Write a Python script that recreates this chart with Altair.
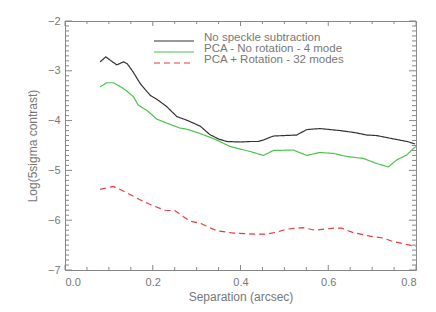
import altair as alt
import pandas as pd

names = ["No speckle subtraction", "PCA - No rotation - 4 mode", "PCA + Rotation - 32 modes"]
colors = ["#333333", "#4cc44c", "#e83a3a"]
dashes = [[1, 0], [1, 0], [6, 4]]

sep_nosub = [0.080, 0.093, 0.105, 0.118, 0.134, 0.142, 0.155, 0.171, 0.185, 0.194, 0.209, 0.232,
             0.255, 0.277, 0.308, 0.330, 0.350, 0.369, 0.400, 0.422, 0.440, 0.452, 0.475, 0.500,
             0.528, 0.551, 0.581, 0.627, 0.660, 0.688, 0.710, 0.756, 0.780, 0.798]
val_nosub = [-2.82, -2.72, -2.80, -2.88, -2.82, -2.86, -3.02, -3.25, -3.40, -3.49, -3.57, -3.72,
             -3.92, -3.99, -4.11, -4.28, -4.37, -4.42, -4.43, -4.42, -4.42, -4.39, -4.31, -4.30,
             -4.29, -4.18, -4.16, -4.20, -4.24, -4.29, -4.30, -4.38, -4.42, -4.47]

sep_pca4 = [0.080, 0.095, 0.110, 0.125, 0.140, 0.156, 0.167, 0.186, 0.209, 0.232, 0.262, 0.277,
            0.308, 0.338, 0.353, 0.376, 0.422, 0.452, 0.475, 0.520, 0.551, 0.581, 0.612, 0.642,
            0.680, 0.710, 0.737, 0.756, 0.779, 0.794, 0.800]
val_pca4 = [-3.32, -3.24, -3.24, -3.31, -3.40, -3.52, -3.69, -3.79, -3.97, -4.05, -4.15, -4.17,
            -4.26, -4.36, -4.42, -4.52, -4.62, -4.70, -4.60, -4.59, -4.70, -4.64, -4.66, -4.72,
            -4.76, -4.86, -4.93, -4.79, -4.69, -4.56, -4.52]

sep_pca32 = [0.080, 0.095, 0.110, 0.125, 0.141, 0.171, 0.201, 0.228, 0.251, 0.270, 0.285, 0.308,
             0.330, 0.346, 0.384, 0.437, 0.460, 0.483, 0.505, 0.543, 0.570, 0.612, 0.631, 0.657,
             0.695, 0.726, 0.748, 0.786, 0.800]
val_pca32 = [-5.38, -5.35, -5.32, -5.38, -5.45, -5.59, -5.71, -5.80, -5.81, -5.93, -6.02, -6.06,
             -6.15, -6.21, -6.26, -6.28, -6.28, -6.24, -6.18, -6.15, -6.20, -6.16, -6.16, -6.25,
             -6.32, -6.36, -6.43, -6.50, -6.53]

x_major = [0.0, 0.2, 0.4, 0.6, 0.8]
x_minor = [0.05, 0.1, 0.15, 0.25, 0.3, 0.35, 0.45, 0.5, 0.55, 0.65, 0.7, 0.75]
y_major = [-7, -6, -5, -4, -3, -2]
y_minor = [round(-7 + i * 0.1, 1) for i in range(51) if i % 10 != 0]

XTITLE = "Separation (arcsec)"
YTITLE = "Log(5sigma contrast)"

rows = []
for name, xs, ys in zip(names, [sep_nosub, sep_pca4, sep_pca32], [val_nosub, val_pca4, val_pca32]):
    for x, y in zip(xs, ys):
        rows.append({"series": name, "sep": x, "val": y})
df = pd.DataFrame(rows)

W, H = 351, 249
FONT = "Liberation Sans"
GRAY = "#777777"
TICK = "#888888"

X0, X1, Y0, Y1 = 0.0, 0.8, -7.0, -2.0
xscale = alt.Scale(domain=[X0, X1], nice=False)
yscale = alt.Scale(domain=[Y0, Y1], nice=False)

# tick lengths: pixels converted to data units of the perpendicular axis
px_y = (Y1 - Y0) / H
px_x = (X1 - X0) / W
XT_MAJ, XT_MIN = 5 * px_y, 3 * px_y
YT_MAJ, YT_MIN = 7 * px_x, 4 * px_x

xt = pd.DataFrame(
    [{"v": v, "e": Y0, "e2": Y0 + XT_MAJ} for v in x_major] +
    [{"v": v, "e": Y0, "e2": Y0 + XT_MIN} for v in x_minor] +
    [{"v": v, "e": Y1, "e2": Y1 - XT_MAJ} for v in x_major] +
    [{"v": v, "e": Y1, "e2": Y1 - XT_MIN} for v in x_minor]
)
yt = pd.DataFrame(
    [{"v": v, "e": X0, "e2": X0 + YT_MAJ} for v in y_major] +
    [{"v": v, "e": X0, "e2": X0 + YT_MIN} for v in y_minor] +
    [{"v": v, "e": X1, "e2": X1 - YT_MAJ} for v in y_major] +
    [{"v": v, "e": X1, "e2": X1 - YT_MIN} for v in y_minor]
)

xaxis = alt.Axis(orient="bottom", values=x_major, format=".1f", ticks=False,
                 labelPadding=6, titlePadding=4, title=XTITLE)
yaxis = alt.Axis(orient="left", values=y_major, format="d", ticks=False,
                 labelPadding=5, titlePadding=8, title=YTITLE)

leg = alt.Legend(title=None, orient="none", legendX=103, legendY=14, padding=0,
                 symbolType="M-4,0H4", symbolSize=100, symbolStrokeWidth=1.2,
                 labelOffset=24, labelFontSize=11.5, labelFont=FONT, labelColor=GRAY,
                 labelBaseline="alphabetic", rowPadding=-1)

lines = alt.Chart(df).mark_line(strokeWidth=1.2).encode(
    x=alt.X("sep:Q", scale=xscale, axis=xaxis),
    y=alt.Y("val:Q", scale=yscale, axis=yaxis),
    color=alt.Color("series:N", scale=alt.Scale(domain=names, range=colors), legend=leg),
    strokeDash=alt.StrokeDash("series:N", scale=alt.Scale(domain=names, range=dashes), legend=leg),
)

xtick_layer = alt.Chart(xt).mark_rule(color=TICK, strokeWidth=1).encode(
    x=alt.X("v:Q", scale=xscale, axis=xaxis),
    y=alt.Y("e:Q", scale=yscale, axis=yaxis),
    y2="e2:Q",
)

ytick_layer = alt.Chart(yt).mark_rule(color=TICK, strokeWidth=1).encode(
    y=alt.Y("v:Q", scale=yscale, axis=yaxis),
    x=alt.X("e:Q", scale=xscale, axis=xaxis),
    x2="e2:Q",
)

chart = alt.layer(lines, xtick_layer, ytick_layer).properties(
    width=W, height=H, autosize="none",
    padding={"left": 57, "top": 13, "right": 12, "bottom": 34},
).configure_view(
    stroke="#888888", strokeWidth=1
).configure_axis(
    grid=False, domain=False, ticks=False,
    labelFont=FONT, labelFontSize=11, labelColor=GRAY,
    titleFont=FONT, titleFontSize=12, titleColor=GRAY, titleFontWeight="normal",
)

chart.save("out.html", embed_options={"renderer": "svg", "actions": False})
